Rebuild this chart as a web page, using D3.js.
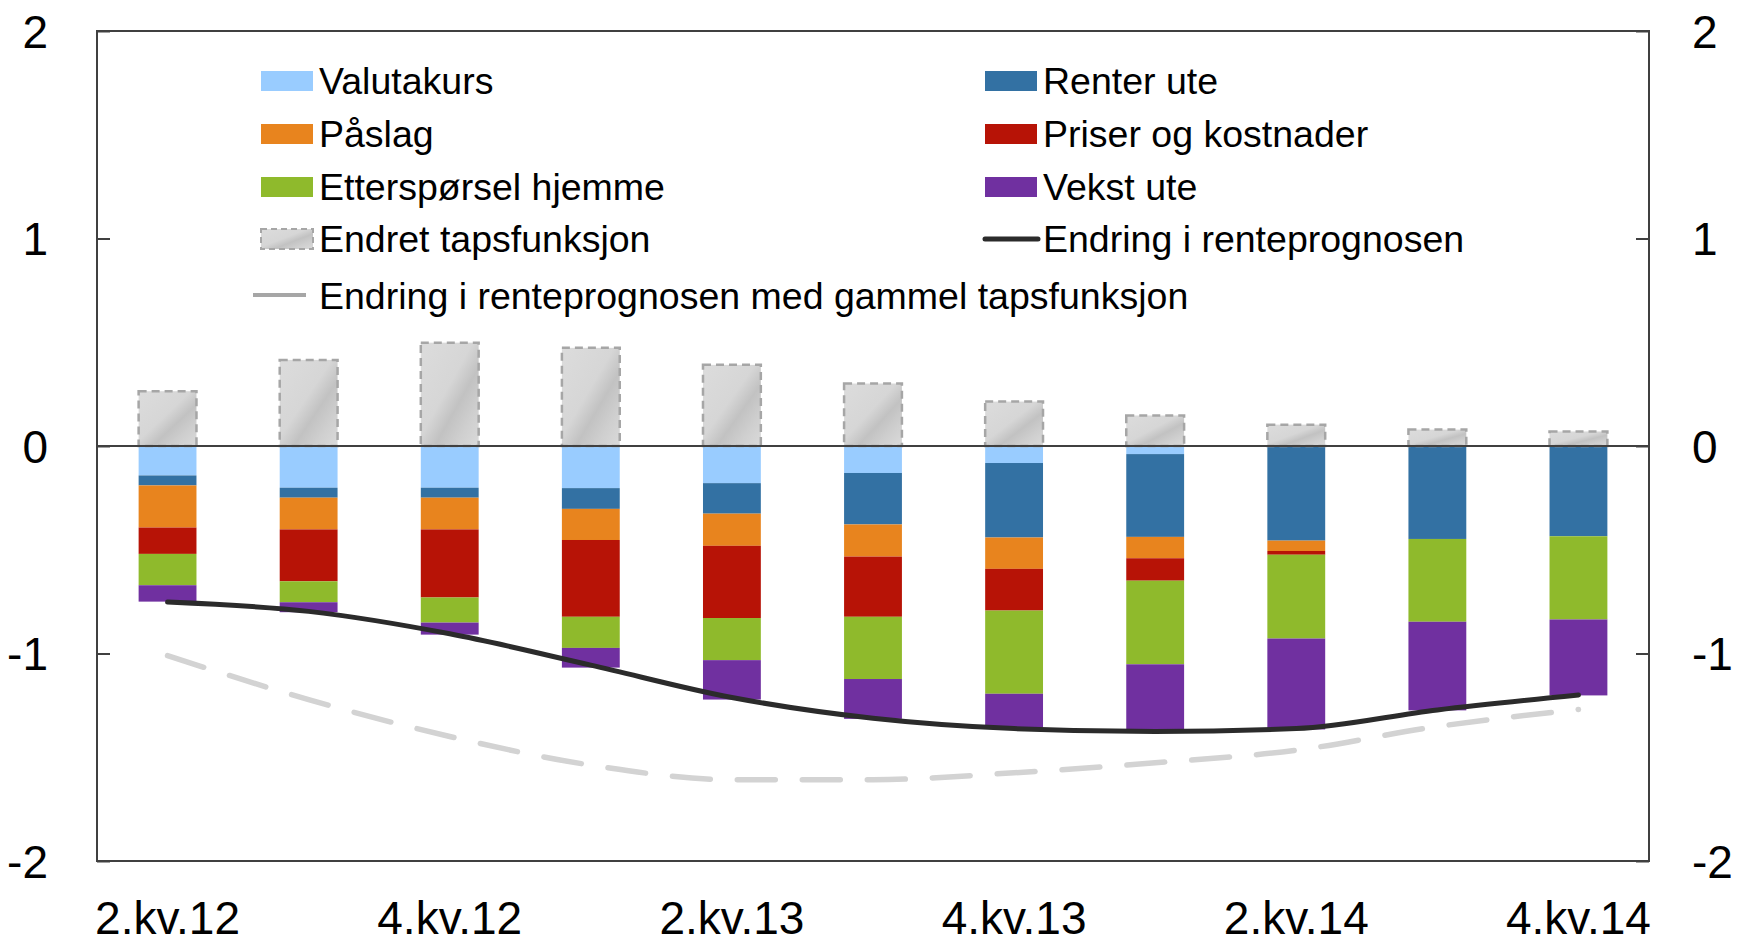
<!DOCTYPE html>
<html>
<head>
<meta charset="utf-8">
<script src="https://cdn.jsdelivr.net/npm/d3@7"></script>
<style>
  html, body { margin: 0; padding: 0; background: #ffffff; }
  svg { display: block; font-family: Arial, "Liberation Sans", sans-serif; }
</style>
</head>
<body>
<svg id="chart" width="1737" height="939"></svg>
<script>
// ---- data ----
const categories = ["2.kv.12","3.kv.12","4.kv.12","1.kv.13","2.kv.13","3.kv.13","4.kv.13","1.kv.14","2.kv.14","3.kv.14","4.kv.14"];
const tickLabels = ["2.kv.12","4.kv.12","2.kv.13","4.kv.13","2.kv.14","4.kv.14"];
const yTicks = [-2, -1, 0, 1, 2];

const tapsfunksjon = [0.264, 0.415, 0.498, 0.473, 0.391, 0.301, 0.214, 0.147, 0.103, 0.079, 0.070];
const valutakurs   = [-0.142, -0.201, -0.201, -0.203, -0.179, -0.130, -0.082, -0.039, 0, 0, 0];
const renterUte    = [-0.048, -0.048, -0.048, -0.100, -0.147, -0.248, -0.359, -0.399, -0.456, -0.448, -0.435];
const paslag       = [-0.203, -0.153, -0.153, -0.150, -0.155, -0.155, -0.151, -0.103, -0.050, 0, 0];
const priser       = [-0.127, -0.250, -0.328, -0.370, -0.348, -0.290, -0.201, -0.108, -0.018, 0, 0];
const ettersporsel = [-0.151, -0.101, -0.121, -0.150, -0.203, -0.300, -0.401, -0.403, -0.404, -0.399, -0.401];
const vekstUte     = [-0.079, -0.048, -0.058, -0.095, -0.190, -0.192, -0.163, -0.314, -0.438, -0.427, -0.366];
const renteprognose = [-0.752, -0.797, -0.905, -1.056, -1.212, -1.312, -1.362, -1.376, -1.362, -1.272, -1.200];
const gammelTaps    = [-1.010, -1.222, -1.400, -1.538, -1.608, -1.608, -1.575, -1.527, -1.466, -1.352, -1.270];

// stacking order (from zero downward)
const negSeries = [
  {name: "Valutakurs", values: valutakurs, color: "#99ccff"},
  {name: "Renter ute", values: renterUte, color: "#3371a3"},
  {name: "Påslag", values: paslag, color: "#e8841e"},
  {name: "Priser og kostnader", values: priser, color: "#b71306"},
  {name: "Etterspørsel hjemme", values: ettersporsel, color: "#8fba2c"},
  {name: "Vekst ute", values: vekstUte, color: "#7030a0"}
];

// ---- layout ----
const svg = d3.select("#chart");
const plotL = 97, plotR = 1649, plotT = 31, plotB = 861;

const x = d3.scaleBand().domain(categories).range([plotL, plotR]).paddingInner(0.59).paddingOuter(0.295);
const y = d3.scaleLinear().domain([-2, 2]).range([plotB, plotT]);

svg.append("rect").attr("width", 1737).attr("height", 939).attr("fill", "#ffffff");

// gradient for the "Endret tapsfunksjon" bars
const defs = svg.append("defs");
const grad = defs.append("linearGradient").attr("id", "greyGrad")
  .attr("x1", "0").attr("y1", "0").attr("x2", "1").attr("y2", "1");
[[0, "#dcdcdc"], [0.45, "#d6d6d6"], [0.62, "#c2c2c2"], [0.8, "#cfcfcf"], [1, "#dadada"]]
  .forEach(([o, c]) => grad.append("stop").attr("offset", o).attr("stop-color", c));

// stacked negative bars
const stacks = categories.map((c, i) => {
  let acc = 0;
  return negSeries.map(s => {
    const y0 = acc; acc += s.values[i];
    return {cat: c, y0: y0, y1: acc, color: s.color};
  });
}).flat();

svg.append("g").selectAll("rect.seg").data(stacks.filter(d => d.y1 !== d.y0)).join("rect")
  .attr("class", "seg")
  .attr("x", d => x(d.cat))
  .attr("width", x.bandwidth())
  .attr("y", d => y(d.y0))
  .attr("height", d => y(d.y1) - y(d.y0))
  .attr("fill", d => d.color);

// positive grey bars
svg.append("g").selectAll("rect.taps").data(categories).join("rect")
  .attr("class", "taps")
  .attr("x", c => x(c))
  .attr("width", x.bandwidth())
  .attr("y", (c, i) => y(tapsfunksjon[i]))
  .attr("height", (c, i) => y(0) - y(tapsfunksjon[i]))
  .attr("fill", "url(#greyGrad)")
  .attr("stroke", "#a6a6a6")
  .attr("stroke-width", 2.5)
  .attr("stroke-dasharray", "8,5");

// zero line
svg.append("line").attr("x1", plotL).attr("x2", plotR).attr("y1", y(0)).attr("y2", y(0))
  .attr("stroke", "#404040").attr("stroke-width", 2);

// lines
const cx = c => x(c) + x.bandwidth() / 2;
const lineGen = vals => d3.line().curve(d3.curveMonotoneX)
  .x((d, i) => cx(categories[i])).y(d => y(d))(vals);

svg.append("path").attr("d", lineGen(gammelTaps))
  .attr("fill", "none").attr("stroke", "#d3d3d3").attr("stroke-width", 5.5)
  .attr("stroke-linecap", "round").attr("stroke-dasharray", "38,27");

svg.append("path").attr("d", lineGen(renteprognose))
  .attr("fill", "none").attr("stroke", "#2b2b2b").attr("stroke-width", 5)
  .attr("stroke-linecap", "round").attr("stroke-linejoin", "round");

// frame
svg.append("rect").attr("x", plotL).attr("y", plotT).attr("width", plotR - plotL).attr("height", plotB - plotT)
  .attr("fill", "none").attr("stroke", "#404040").attr("stroke-width", 2);

// axes
const fmt = d => String(d);
const yLeft = d3.axisLeft(y).tickValues(yTicks).tickSize(-13).tickPadding(49).tickFormat(fmt);
const gl = svg.append("g").attr("transform", `translate(${plotL},0)`).call(yLeft);
const yRight = d3.axisRight(y).tickValues(yTicks).tickSize(-13).tickPadding(43).tickFormat(fmt);
const gr = svg.append("g").attr("transform", `translate(${plotR},0)`).call(yRight);
[gl, gr].forEach(g => {
  g.select(".domain").remove();
  g.selectAll(".tick line").attr("stroke", "#404040").attr("stroke-width", 2);
  g.selectAll(".tick text").attr("font-size", 46).attr("fill", "#000")
    .attr("font-family", "Arial, 'Liberation Sans', sans-serif").attr("dy", "0.35em");
});

const xAxis = d3.axisBottom(x).tickValues(tickLabels).tickSize(0).tickPadding(40);
const gx = svg.append("g").attr("transform", `translate(0,${plotB})`).call(xAxis);
gx.select(".domain").remove();
gx.selectAll(".tick text").attr("font-size", 46).attr("fill", "#000")
  .attr("font-family", "Arial, 'Liberation Sans', sans-serif");

// legend
const legendItems = [
  {label: "Valutakurs", type: "rect", color: "#99ccff", col: 0, row: 0},
  {label: "Påslag", type: "rect", color: "#e8841e", col: 0, row: 1},
  {label: "Etterspørsel hjemme", type: "rect", color: "#8fba2c", col: 0, row: 2},
  {label: "Endret tapsfunksjon", type: "grey", col: 0, row: 3},
  {label: "Renter ute", type: "rect", color: "#3371a3", col: 1, row: 0},
  {label: "Priser og kostnader", type: "rect", color: "#b71306", col: 1, row: 1},
  {label: "Vekst ute", type: "rect", color: "#7030a0", col: 1, row: 2},
  {label: "Endring i renteprognosen", type: "line", color: "#2b2b2b", col: 1, row: 3},
  {label: "Endring i renteprognosen med gammel tapsfunksjon", type: "gline", color: "#a6a6a6", col: 0, row: 4}
];
const rowY = [81, 134, 187, 239, 296];
const colX = [261, 985];
const lg = svg.append("g");
legendItems.forEach(it => {
  const sx = colX[it.col], cy = rowY[it.row];
  if (it.type === "rect") {
    lg.append("rect").attr("x", sx).attr("y", cy - 10).attr("width", 52).attr("height", 20).attr("fill", it.color);
  } else if (it.type === "grey") {
    lg.append("rect").attr("x", sx).attr("y", cy - 10).attr("width", 52).attr("height", 20)
      .attr("fill", "url(#greyGrad)").attr("stroke", "#a6a6a6").attr("stroke-width", 2).attr("stroke-dasharray", "6,4");
  } else if (it.type === "line") {
    lg.append("line").attr("x1", sx).attr("x2", sx + 53).attr("y1", cy).attr("y2", cy)
      .attr("stroke", it.color).attr("stroke-width", 5).attr("stroke-linecap", "round");
  } else {
    lg.append("line").attr("x1", sx - 8).attr("x2", sx + 45).attr("y1", cy - 1).attr("y2", cy - 1)
      .attr("stroke", it.color).attr("stroke-width", 4);
  }
  lg.append("text").attr("x", sx + 58).attr("y", cy + 13)
    .attr("font-size", 37.5).attr("fill", "#000").text(it.label);
});
</script>
</body>
</html>
